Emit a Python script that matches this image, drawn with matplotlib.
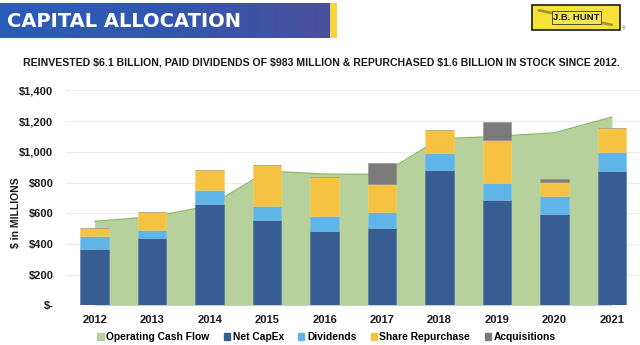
import numpy as np
import matplotlib.pyplot as plt
from matplotlib.patches import Rectangle, Patch
from matplotlib.lines import Line2D
from matplotlib.colors import LinearSegmentedColormap

years = ["2012", "2013", "2014", "2015", "2016", "2017", "2018", "2019", "2020", "2021"]
operating_cash_flow = [547, 577, 647, 874, 855, 853, 1085, 1100, 1124, 1226]
net_capex = [367, 438, 658, 553, 482, 506, 883, 686, 597, 877]
dividends = [82, 55, 93, 96, 100, 104, 107, 111, 115, 121]
share_repurchase = [55, 115, 130, 265, 251, 180, 152, 277, 91, 157]
acquisitions = [0, 0, 0, 0, 0, 139, 0, 118, 20, 0]
y_ticks = [0, 200, 400, 600, 800, 1000, 1200, 1400]
y_tick_labels = ["$-", "$200", "$400", "$600", "$800", "$1,000", "$1,200", "$1,400"]

C_OCF = "#b6d19c"
C_OCF_EDGE = "#8dbb6c"
C_CAPEX = "#385d92"
C_DIV = "#5fb4e8"
C_REP = "#f5c242"
C_ACQ = "#7b7b7b"

plt.rcParams["font.family"] = ["Liberation Sans", "DejaVu Sans"]
plt.rcParams["font.weight"] = "bold"

fig = plt.figure(figsize=(6.4, 3.45), dpi=100)

# header banner with gradient
banner = fig.add_axes([0, 0.890, 0.516, 0.101])
grad = np.linspace(0, 1, 256).reshape(1, -1)
cmap = LinearSegmentedColormap.from_list("hdr", ["#2b5cb8", "#3157b0", "#4a4f9c"])
banner.imshow(grad, aspect="auto", cmap=cmap, extent=[0, 1, 0, 1])
banner.set_xlim(0, 1)
banner.set_ylim(0, 1)
banner.axis("off")
fig.add_artist(Rectangle((0.516, 0.890), 0.011, 0.101, transform=fig.transFigure,
                         color="#f2d43c", lw=0))
fig.text(0.011, 0.937, "CAPITAL ALLOCATION", color="white", fontsize=14,
         fontweight="bold", va="center", ha="left", family=["DejaVu Sans"])

# logo: yellow plate, rolled ribbon behind a boxed name
fig.add_artist(Rectangle((0.831, 0.913), 0.1375, 0.0725, transform=fig.transFigure,
                         facecolor="#f5e13a", edgecolor="#1a1a1a", lw=1.2, zorder=1))
fig.add_artist(Line2D([0.842, 0.956], [0.970, 0.928], transform=fig.transFigure,
                      color="#a89628", lw=2.0, solid_capstyle="round", zorder=2))
fig.add_artist(Rectangle((0.862, 0.931), 0.077, 0.036, transform=fig.transFigure,
                         facecolor="#f6e44c", edgecolor="#333333", lw=0.6, zorder=3))
fig.text(0.9005, 0.948, "J.B. HUNT", fontsize=6.8, fontweight="bold",
         ha="center", va="center", color="#1a1a1a", zorder=4)
fig.text(0.972, 0.917, "®", fontsize=3.5, color="#777777", ha="left", va="center")

fig.text(0.502, 0.820, "REINVESTED $6.1 BILLION, PAID DIVIDENDS OF $983 MILLION & "
         "REPURCHASED $1.6 BILLION IN STOCK SINCE 2012.",
         fontsize=7.55, fontweight="bold", ha="center", va="center", color="#1a1a1a")

ax = fig.add_axes([0.103, 0.115, 0.898, 0.623])
x = np.arange(len(years))
w = 0.5

ax.fill_between(x, operating_cash_flow, color=C_OCF, zorder=1, lw=0)
ax.plot(x, operating_cash_flow, color=C_OCF_EDGE, lw=1.0, zorder=1)

b1 = np.array(net_capex)
b2 = b1 + np.array(dividends)
b3 = b2 + np.array(share_repurchase)
ax.bar(x, net_capex, w, color=C_CAPEX, zorder=2, edgecolor="#4a6fa3", lw=0.4)
ax.bar(x, dividends, w, bottom=b1, color=C_DIV, zorder=2, edgecolor="#7fc3ec", lw=0.4)
ax.bar(x, share_repurchase, w, bottom=b2, color=C_REP, zorder=2, edgecolor="#f7cf66", lw=0.4)
ax.bar(x, acquisitions, w, bottom=b3, color=C_ACQ, zorder=2,
       edgecolor="#8e8e8e", lw=0.4)

ax.set_xlim(-0.5, 9.5)
ax.set_ylim(0, 1400)
ax.set_yticks(y_ticks)
ax.set_yticklabels(y_tick_labels)
ax.set_xticks(x)
ax.set_xticklabels(years)
ax.grid(axis="y", color="#ececec", lw=0.8, zorder=0)
ax.set_axisbelow(True)
for s in ax.spines.values():
    s.set_visible(False)
ax.tick_params(length=0, labelsize=8, colors="#1a1a1a", pad=7)
ax.tick_params(axis="y", pad=9)
fig.text(0.025, 0.383, "$ in MILLIONS", fontsize=7.5, fontweight="bold",
         rotation=90, ha="center", va="center", color="#1a1a1a")

handles = [Patch(color=C_OCF), Patch(color=C_CAPEX), Patch(color=C_DIV),
           Patch(color=C_REP), Patch(color=C_ACQ)]
labels = ["Operating Cash Flow", "Net CapEx", "Dividends", "Share Repurchase", "Acquisitions"]
fig.legend(handles, labels, loc="center", bbox_to_anchor=(0.51, 0.023), ncol=5,
           frameon=False, fontsize=7.4, handlelength=0.6, handleheight=0.6,
           handletextpad=0.25, columnspacing=1.4)

fig.savefig("out.png", dpi=100)
